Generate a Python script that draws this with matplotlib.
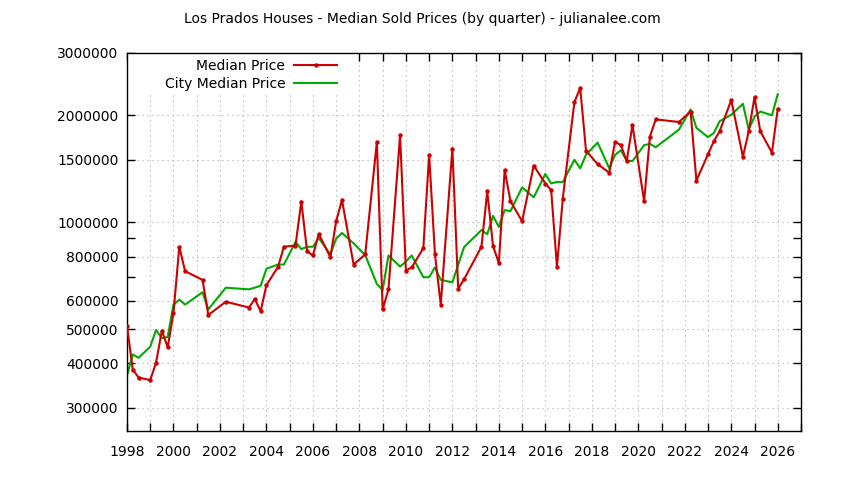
import matplotlib
matplotlib.use("Agg")
import matplotlib.pyplot as plt
from matplotlib.ticker import FixedLocator, FuncFormatter, NullFormatter, MultipleLocator
from matplotlib.patches import Rectangle

plt.rcParams['font.family'] = 'DejaVu Sans'
plt.rcParams['font.size'] = 10

# Los Prados median sold price (by quarter)
lp_years = [1998.0, 1998.25, 1998.5, 1999.0, 1999.25, 1999.5, 1999.75, 2000.0, 2000.25, 2000.5,
            2001.25, 2001.5, 2002.25, 2003.25, 2003.5, 2003.75, 2004.0, 2004.5, 2004.75, 2005.25,
            2005.5, 2005.75, 2006.0, 2006.25, 2006.75, 2007.0, 2007.25, 2007.75, 2008.25, 2008.75,
            2009.0, 2009.25, 2009.75, 2010.0, 2010.25, 2010.75, 2011.0, 2011.25, 2011.5, 2012.0,
            2012.25, 2012.5, 2013.25, 2013.5, 2013.75, 2014.0, 2014.25, 2014.5, 2015.0, 2015.5,
            2016.0, 2016.25, 2016.5, 2016.75, 2017.25, 2017.5, 2017.75, 2018.25, 2018.75, 2019.0,
            2019.25, 2019.5, 2019.75, 2020.25, 2020.5, 2020.75, 2021.75, 2022.25, 2022.5, 2023.0,
            2023.25, 2023.5, 2024.0, 2024.5, 2024.75, 2025.0, 2025.25, 2025.75, 2026.0]
lp_price = [510000, 384000, 365000, 359000, 402000, 495000, 444000, 555000, 853000, 728000,
            688000, 548000, 597000, 575000, 608000, 561000, 665000, 749000, 853000, 860000,
            1144000, 828000, 806000, 927000, 797000, 1007000, 1155000, 760000, 812000, 1682000,
            568000, 647000, 1758000, 731000, 746000, 845000, 1550000, 812000, 586000, 1614000,
            650000, 690000, 853000, 1222000, 857000, 767000, 1404000, 1146000, 1007000, 1444000,
            1286000, 1233000, 749000, 1166000, 2181000, 2391000, 1591000, 1458000, 1380000, 1685000,
            1650000, 1487000, 1880000, 1146000, 1744000, 1950000, 1917000, 2052000, 1310000, 1555000,
            1693000, 1804000, 2211000, 1530000, 1804000, 2252000, 1804000, 1572000, 2088000]

# city median price
city_years = [1998.0, 1998.25, 1998.5, 1999.0, 1999.25, 1999.5, 1999.75, 2000.0, 2000.25, 2000.5,
              2001.25, 2001.5, 2002.25, 2003.25, 2003.75, 2004.0, 2004.5, 2004.75, 2005.25,
              2005.5, 2005.75, 2006.0, 2006.25, 2006.75, 2007.0, 2007.25, 2007.75, 2008.25, 2008.75,
              2009.0, 2009.25, 2009.75, 2010.0, 2010.25, 2010.75, 2011.0, 2011.25, 2011.5, 2012.0,
              2012.5, 2013.25, 2013.5, 2013.75, 2014.0, 2014.25, 2014.5, 2015.0, 2015.5,
              2016.0, 2016.25, 2016.5, 2016.75, 2017.25, 2017.5, 2017.75, 2018.25, 2018.75, 2019.0,
              2019.25, 2019.5, 2019.75, 2020.25, 2020.5, 2020.75, 2021.75, 2022.25, 2022.5, 2023.0,
              2023.25, 2023.5, 2024.0, 2024.5, 2024.75, 2025.0, 2025.25, 2025.75, 2026.0]
city_price = [370000, 424000, 415000, 446000, 497000, 471000, 475000, 586000, 605000, 586000,
              635000, 568000, 654000, 647000, 662000, 740000, 760000, 760000, 880000,
              840000, 853000, 853000, 903000, 812000, 900000, 933000, 872000, 808000, 670000,
              644000, 806000, 750000, 775000, 806000, 700000, 700000, 746000, 688000, 677000,
              850000, 951000, 925000, 1042000, 970000, 1082000, 1075000, 1254000, 1176000,
              1368000, 1286000, 1300000, 1297000, 1500000, 1419000, 1550000, 1677000, 1419000, 1550000,
              1596000, 1492000, 1487000, 1650000, 1663000, 1627000, 1825000, 2080000, 1845000, 1737000,
              1785000, 1926000, 2010000, 2157000, 1825000, 1985000, 2052000, 2002000, 2296000]

y_ticks = [300000, 400000, 500000, 600000, 800000, 1000000, 1500000, 2000000, 3000000]
y_minor = [700000, 900000]

fig = plt.figure(figsize=(8.44, 4.8), dpi=100)
ax = fig.add_axes([127 / 844, 1 - 431 / 480, 674 / 844, 378 / 480])

ax.plot(lp_years, lp_price, color='#cc0000', linewidth=1.5, marker='o', markersize=2.2,
        label='Median Price', zorder=3)
ax.plot(city_years, city_price, color='#00aa00', linewidth=1.5, label='City Median Price', zorder=2)

ax.set_yscale('log')
ax.set_xlim(1998, 2027)
ax.set_ylim(258000, 3000000)

ax.xaxis.set_major_locator(MultipleLocator(2))
ax.xaxis.set_minor_locator(MultipleLocator(1))
ax.xaxis.set_major_formatter(FuncFormatter(lambda v, p: '%d' % v))
ax.yaxis.set_major_locator(FixedLocator(y_ticks))
ax.yaxis.set_minor_locator(FixedLocator(y_minor))
ax.yaxis.set_major_formatter(FuncFormatter(lambda v, p: '%d' % v))
ax.yaxis.set_minor_formatter(NullFormatter())

ax.tick_params(which='both', direction='in', top=True, right=True, length=6, width=1, labelsize=10)
ax.tick_params(axis='y', pad=6)
ax.tick_params(axis='x', pad=10)

ax.set_axisbelow(True)
ax.grid(True, which='major', axis='y', color='#a8a8a8', linestyle=(0, (1, 3.5)), linewidth=0.8)
ax.grid(True, which='both', axis='x', color='#a8a8a8', linestyle=(0, (1, 3.5)), linewidth=0.8)
for s in ax.spines.values():
    s.set_linewidth(1)

# white key area like the original
ax.add_patch(Rectangle((0, 1 - 42 / 378), 216 / 674, 42 / 378, transform=ax.transAxes,
                       facecolor='white', edgecolor='none', zorder=1))

ax.legend(loc='upper right', bbox_to_anchor=(343 / 844, 1 - 53 / 480), bbox_transform=fig.transFigure,
          markerfirst=False, frameon=False, borderaxespad=0, borderpad=0.4, handlelength=3.1,
          handletextpad=0.65, labelspacing=0.3, numpoints=1, fontsize=10)

fig.text(0.5, 1 - 19 / 480, 'Los Prados Houses - Median Sold Prices (by quarter) - julianalee.com',
         ha='center', va='center', fontsize=10)

fig.savefig('out.png', dpi=100)
